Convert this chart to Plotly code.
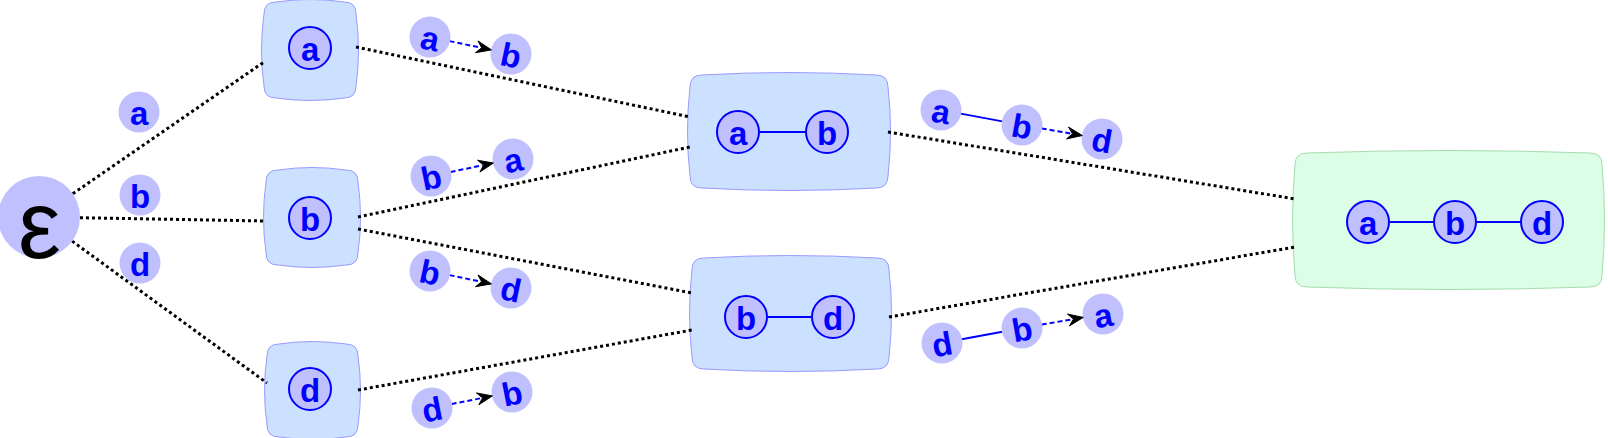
import math
import plotly.graph_objects as go

W, H = 1608, 438

# lattice states: the small graph drawn in each box
state_labels = [["a"], ["b"], ["d"], ["a", "b"], ["b", "d"], ["a", "b", "d"]]
state_x0 = [264, 266, 267, 690, 692, 1295]
state_x1 = [356, 358, 358, 888, 889, 1602]
state_y0 = [2, 170, 344, 75, 258, 153]
state_y1 = [98, 265, 437, 188, 369, 287]
state_node_x = [[310], [310], [310], [738, 827], [746, 833], [1368, 1455, 1542]]
state_node_y = [[48], [218], [389], [132, 132], [317, 317], [222, 222, 222]]
state_final = [False, False, False, False, False, True]

# root state (empty pattern)
root_label = "ε"
root_x, root_y = 39, 217

# first-level extensions next to the root edges
first_labels = ["a", "b", "d"]
first_x = [139, 140, 140]
first_y = [112, 195, 263]

# lattice edges (-1 = root), with the port heights on each side
edge_from = [-1, -1, -1, 0, 1, 1, 2, 3, 4]
edge_to = [0, 1, 2, 3, 3, 4, 4, 5, 5]
edge_src_y = [None, None, None, 47, 217, 229, 390, 132, 317]
edge_dst_y = [62, 221, 383, 117, 147, 293, 330, 199, 247]

# extension chains drawn along the edges (last link is the new edge)
trans_labels = [["a", "b"], ["b", "a"], ["b", "d"], ["d", "b"],
                ["a", "b", "d"], ["d", "b", "a"]]
trans_x = [[430, 511], [431, 513], [430, 511], [432, 512],
           [941, 1022, 1102], [942, 1022, 1103]]
trans_y = [[37, 54], [176, 159], [271, 288], [408, 392],
           [110, 125, 139], [343, 328, 314]]

BLUE = "#0000ff"
NODE_FILL = "#c0c0ff"
FONT = "Liberation Sans"


def box_path(x0, y0, x1, y1, r=12, b=5):
    xm, ym = (x0 + x1) / 2, (y0 + y1) / 2
    return (f"M{x0 + r},{y0} Q{xm},{y0 - b} {x1 - r},{y0} Q{x1},{y0} {x1},{y0 + r} "
            f"Q{x1 + b},{ym} {x1},{y1 - r} Q{x1},{y1} {x1 - r},{y1} "
            f"Q{xm},{y1 + b} {x0 + r},{y1} Q{x0},{y1} {x0},{y1 - r} "
            f"Q{x0 - b},{ym} {x0},{y0 + r} Q{x0},{y0} {x0 + r},{y0} Z")


def head_path(tip, u, length=15, half=6, notch=10):
    nx, ny = -u[1], u[0]
    bx, by = tip[0] - u[0] * length, tip[1] - u[1] * length
    cx, cy = tip[0] - u[0] * notch, tip[1] - u[1] * notch
    return (f"M{tip[0]},{tip[1]} L{bx + nx * half},{by + ny * half} L{cx},{cy} "
            f"L{bx - nx * half},{by - ny * half} Z")


def trim(p, q, r1, r2):
    dx, dy = q[0] - p[0], q[1] - p[1]
    d = math.hypot(dx, dy)
    ux, uy = dx / d, dy / d
    return (p[0] + ux * r1, p[1] + uy * r1), (q[0] - ux * r2, q[1] - uy * r2), (ux, uy)


fig = go.Figure()
shapes = []
annotations = []

for i in range(len(state_labels)):
    fill, line = ("#dcfde6", "#a6dcae") if state_final[i] else ("#cce0ff", "#9a9aff")
    shapes.append(dict(type="path", path=box_path(state_x0[i], state_y0[i], state_x1[i], state_y1[i]),
                       xref="x", yref="y", fillcolor=fill, line=dict(color=line, width=1),
                       layer="below"))

# dotted lattice edges
lx, ly = [], []
for s, t, sy, ty in zip(edge_from, edge_to, edge_src_y, edge_dst_y):
    end = (state_x0[t], ty)
    if s < 0:
        start, _, _ = trim((root_x, root_y), end, 41, 0)
    else:
        start = (state_x1[s], sy)
    lx += [start[0], end[0], None]
    ly += [start[1], end[1], None]
fig.add_trace(go.Scatter(x=lx, y=ly, mode="lines", hoverinfo="skip",
                         line=dict(color="black", width=3, dash="3px,3px")))

# edges inside the state boxes
sx, sy_ = [], []
for xs, ys in zip(state_node_x, state_node_y):
    for k in range(len(xs) - 1):
        a, b, _ = trim((xs[k], ys[k]), (xs[k + 1], ys[k + 1]), 22, 22)
        sx += [a[0], b[0], None]
        sy_ += [a[1], b[1], None]

# extension chains: solid links then a dashed arrow
dx_, dy_ = [], []
for labels, xs, ys in zip(trans_labels, trans_x, trans_y):
    n = len(xs)
    for k in range(n - 1):
        a, b, u = trim((xs[k], ys[k]), (xs[k + 1], ys[k + 1]), 20, 20)
        if k < n - 2:
            sx += [a[0], b[0], None]
            sy_ += [a[1], b[1], None]
        else:
            dx_ += [a[0], b[0] - u[0] * 11, None]
            dy_ += [a[1], b[1] - u[1] * 11, None]
            shapes.append(dict(type="path", path=head_path(b, u), xref="x", yref="y",
                               fillcolor="black", line=dict(color="black", width=1),
                               layer="above"))
fig.add_trace(go.Scatter(x=sx, y=sy_, mode="lines", hoverinfo="skip",
                         line=dict(color=BLUE, width=2)))
fig.add_trace(go.Scatter(x=dx_, y=dy_, mode="lines", hoverinfo="skip",
                         line=dict(color=BLUE, width=2, dash="5px,3px")))

# nodes
bx = [x for xs in state_node_x for x in xs]
by = [y for ys in state_node_y for y in ys]
fig.add_trace(go.Scatter(x=bx, y=by, mode="markers", hoverinfo="skip",
                         marker=dict(size=42, color=NODE_FILL, line=dict(color=BLUE, width=2))))
fx = first_x + [x for xs in trans_x for x in xs]
fy = first_y + [y for ys in trans_y for y in ys]
fig.add_trace(go.Scatter(x=fx, y=fy, mode="markers", hoverinfo="skip",
                         marker=dict(size=41, color=NODE_FILL, line=dict(width=0))))
fig.add_trace(go.Scatter(x=[root_x], y=[root_y], mode="markers", hoverinfo="skip",
                         marker=dict(size=82, color=NODE_FILL, line=dict(width=0))))


def label(x, y, t, angle=0):
    annotations.append(dict(x=x, y=y, xref="x", yref="y", text=t, showarrow=False,
                            textangle=angle, yshift=-1,
                            font=dict(family=FONT, size=33, color=BLUE, weight="bold")))


for labels, xs, ys in zip(state_labels, state_node_x, state_node_y):
    for t, x, y in zip(labels, xs, ys):
        label(x, y, t)
for t, x, y in zip(first_labels, first_x, first_y):
    label(x, y, t)
for labels, xs, ys in zip(trans_labels, trans_x, trans_y):
    ang = math.degrees(math.atan2(ys[-1] - ys[0], xs[-1] - xs[0]))
    for t, x, y in zip(labels, xs, ys):
        label(x, y, t, ang)

annotations.append(dict(x=root_x, y=root_y, xref="x", yref="y", text=root_label,
                        showarrow=False, yshift=-7,
                        font=dict(family=FONT, size=96, color="black")))

fig.update_layout(
    width=W, height=H, margin=dict(l=0, r=0, t=0, b=0),
    paper_bgcolor="white", plot_bgcolor="white", showlegend=False,
    xaxis=dict(range=[0, W], visible=False, fixedrange=True),
    yaxis=dict(range=[H, 0], visible=False, fixedrange=True),
    shapes=shapes, annotations=annotations,
)
# drop the browser's default page margin so the figure sits at (0, 0)
fig.write_html("out.html", config={"displayModeBar": False},
               post_script="document.body.style.margin = '0';")
